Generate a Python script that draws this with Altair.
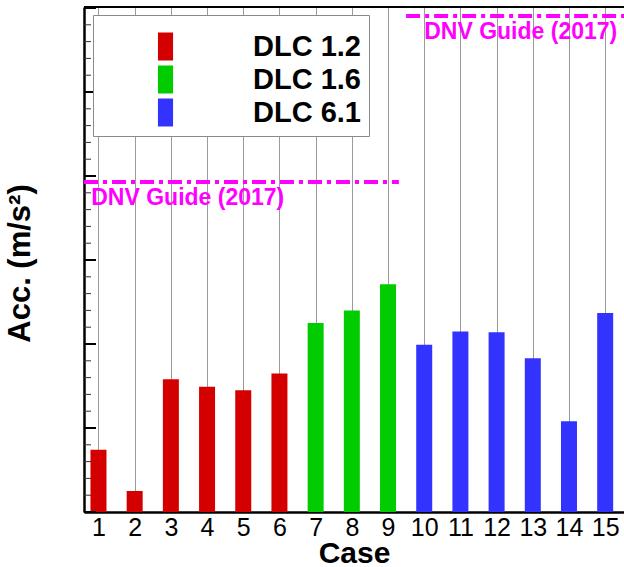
import altair as alt
import pandas as pd
import numpy as np

# ---- data ----
cases = list(range(1, 16))
acc = [0.74, 0.25, 1.58, 1.49, 1.45, 1.65, 2.25, 2.40, 2.71, 1.99, 2.15, 2.14, 1.83, 1.08, 2.37]
groups = ["DLC 1.2"] * 6 + ["DLC 1.6"] * 3 + ["DLC 6.1"] * 6
group_names = ["DLC 1.2", "DLC 1.6", "DLC 6.1"]
group_colors = ["#d40000", "#00cc00", "#3333ff"]

dnv_label = ["DNV Guide (2017)", "DNV Guide (2017)"]
dnv_limit = [3.93, 5.905]
dnv_from = [0.6, 9.5]
dnv_to = [9.3, 15.52]
dnv_text_x = [0.8, 10.0]

major_ticks = [0, 1, 2, 3, 4, 5, 6]
minor_ticks = [round(v, 1) for v in np.arange(0.2, 6.01, 0.2) if abs(v - round(v)) > 1e-6]

XDOM = [0.6, 15.52]
YDOM = [0, 6.012]
W, H = 540, 505
FONT = "Liberation Sans"

bars_df = pd.DataFrame({"case": cases, "acc": acc, "group": groups})
dnv_df = pd.DataFrame({"label": dnv_label, "limit": dnv_limit, "x0": dnv_from, "x1": dnv_to,
                       "tx": dnv_text_x})
dnv_df["ty"] = dnv_df["limit"] - 0.19
maj_df = pd.DataFrame({"v": major_ticks})
min_df = pd.DataFrame({"v": minor_ticks})

xscale = alt.Scale(domain=XDOM, nice=False, zero=False, padding=0)
yscale = alt.Scale(domain=YDOM, nice=False, zero=False, padding=0)

xaxis = alt.Axis(values=cases, grid=True, gridColor="#9a9a9a", gridWidth=1, ticks=False,
                 domainColor="black", domainWidth=2.5, labelFontSize=25, labelFont=FONT,
                 labelColor="black", labelPadding=3, labelFlush=False, labelOverlap=False,
                 title="Case", titleFontSize=30, titleFont=FONT, titleFontWeight="bold",
                 titleColor="black", titleBaseline="alphabetic", titleY=50)
yaxis = alt.Axis(labels=False, ticks=False, grid=False, domainColor="black", domainWidth=2.5,
                 title="Acc. (m/s²)", titleFontSize=31, titleFont=FONT, titleFontWeight="bold",
                 titleColor="black", titleBaseline="alphabetic", titleX=-55, titleY=256)

bars = alt.Chart(bars_df).mark_bar(size=16).encode(
    x=alt.X("case:Q", scale=xscale, axis=xaxis),
    y=alt.Y("acc:Q", scale=yscale, axis=yaxis),
    color=alt.Color("group:N", scale=alt.Scale(domain=group_names, range=group_colors),
                    legend=alt.Legend(orient="none", legendX=9, legendY=8, title=" ",
                                      titleFontSize=2, titlePadding=7,
                                      symbolType="M-0.54,-1H0.54V1H-0.54Z",
                                      symbolSize=784, symbolStrokeWidth=0, symbolOpacity=1,
                                      labelFont=FONT, labelFontSize=29, labelFontWeight="bold",
                                      labelColor="black", fillColor="white",
                                      strokeColor="#8a8a8a", padding=8, rowPadding=3,
                                      symbolOffset=50, labelOffset=73)),
)

limits = alt.Chart(dnv_df).mark_rule(color="#ff00ff", strokeWidth=4, strokeDash=[14, 5, 4, 5]).encode(
    x=alt.X("x0:Q", scale=xscale, axis=xaxis), x2="x1:Q",
    y=alt.Y("limit:Q", scale=yscale, axis=yaxis))

limit_text = alt.Chart(dnv_df).mark_text(color="#ff00ff", font=FONT, fontSize=23, fontWeight="bold",
                                         align="left", baseline="middle").encode(
    x=alt.X("tx:Q", scale=xscale, axis=xaxis), y=alt.Y("ty:Q", scale=yscale, axis=yaxis),
    text="label:N")

major = alt.Chart(maj_df).mark_rule(color="black", strokeWidth=2).encode(
    y=alt.Y("v:Q", scale=yscale, axis=yaxis), x=alt.value(0), x2=alt.value(12))
minor = alt.Chart(min_df).mark_rule(color="#333333", strokeWidth=1).encode(
    y=alt.Y("v:Q", scale=yscale, axis=yaxis), x=alt.value(0), x2=alt.value(7))
top = alt.Chart(maj_df).mark_rule(color="black", strokeWidth=2).encode(
    y=alt.value(0), x=alt.value(0), x2=alt.value(W))

chart = alt.layer(bars, limits, limit_text, minor, major, top).properties(
    width=W, height=H,
    autosize=alt.AutoSizeParams(type="none"),
    padding={"left": 84, "top": 7, "right": 0, "bottom": 55},
).configure_view(stroke=None).configure_axis(labelOverlap=False).configure(background="white")

chart.save("out.html", embed_options={"renderer": "svg", "actions": False})
